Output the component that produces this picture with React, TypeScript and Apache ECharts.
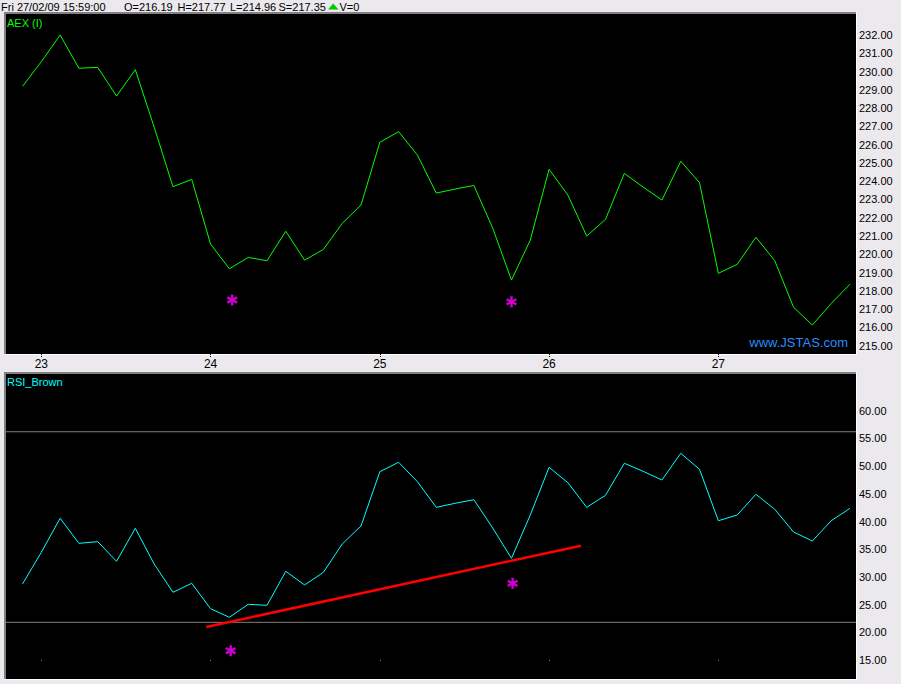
import React, { useEffect, useRef } from "react";
import * as echarts from "echarts";

// ---- data ----
const DAYS = ["23", "24", "25", "26", "27"];
const HOURS = ["09:00", "10:00", "11:00", "12:00", "13:00", "14:00", "15:00", "16:00", "17:00"];
const PREV_BAR = "20 17:00";
const CATEGORIES = [PREV_BAR, ...DAYS.flatMap((d) => HOURS.map((h) => `${d} ${h}`))].slice(0, 45);

const AEX = [
  229.19, 230.54, 232.0, 230.18, 230.23, 228.66, 230.1, 226.96, 223.7, 224.1,
  220.56, 219.21, 219.83, 219.65, 221.26, 219.68, 220.27, 221.69, 222.7, 226.13,
  226.71, 225.43, 223.35, 223.57, 223.77, 221.44, 218.59, 220.78, 224.65, 223.24,
  221.0, 221.91, 224.43, 223.68, 222.97, 225.09, 223.92, 218.96, 219.45, 220.93,
  219.65, 217.1, 216.13, 217.31, 218.37,
];

const RSI = [
  28.72, 34.44, 40.58, 36.06, 36.36, 32.82, 38.77, 32.33, 27.22, 28.84,
  24.26, 22.71, 25.05, 24.87, 31.01, 28.54, 30.83, 35.94, 39.19, 48.99,
  50.69, 47.18, 42.56, 43.28, 43.94, 38.83, 33.36, 41.17, 49.78, 47.0,
  42.56, 44.73, 50.51, 49.06, 47.49, 52.31, 49.42, 40.14, 41.17, 44.91,
  42.2, 38.1, 36.48, 40.14, 42.38,
];

const RSI_LEVELS = [56.2, 21.8];
const TREND_LINE = [
  [9.77, 20.96],
  [29.69, 35.63],
];
const PRICE_STARS = [
  [11.15, 217.5],
  [26.0, 217.4],
];
const RSI_STARS = [
  [11.07, 16.68],
  [26.06, 28.84],
];

const HEADER_DATE = "Fri 27/02/09 15:59:00";
const HEADER_FIELDS = [
  ["O", 216.19],
  ["H", 217.77],
  ["L", 214.96],
  ["S", 217.35],
];
const HEADER_VOLUME = "V=0";
const PRICE_TITLE = "AEX (I)";
const RSI_TITLE = "RSI_Brown";
const WATERMARK = "www.JSTAS.com";

// ---- styles ----
const FONT = "'Liberation Sans', Arial, sans-serif";
const BG = "#ebe9ed";
const HEADER_X = [124, 177.5, 230, 278.5];
const STAR =
  "path://M3.9 0L6.1 0L6.1 10L3.9 10Z M0.05 3.55L1.15 1.65L9.95 6.45L8.85 8.35Z M0.05 6.45L8.85 1.65L9.95 3.55L1.15 8.35Z";

const isDayStart = (i: number) => {
  const c = CATEGORIES[i];
  return !!c && c.endsWith(HOURS[0]);
};

export default function App() {
  const ref = useRef<HTMLDivElement>(null);
  useEffect(() => {
    document.body.style.margin = "0";
    const chart = echarts.init(ref.current!, null, { renderer: "svg" });
    const gridLeft = 22.5;
    const gridWidth = 827.5;

    const yLabel = (v: number) => v.toFixed(2);

    const panel = (y: number, h: number) => [
      { type: "rect", z: -10, shape: { x: 4, y, width: 853, height: h + 1 }, style: { fill: "#ffffff" } },
      { type: "rect", z: -9, shape: { x: 4, y, width: 852, height: h }, style: { fill: "#808080" } },
      { type: "rect", z: -8, shape: { x: 6, y: y + 2, width: 850, height: h - 2 }, style: { fill: "#000000" } },
    ];

    const txt = (x: number, y: number, text: string, fill: string, size = 11, align = "left") => ({
      type: "text",
      z: 100,
      x,
      y,
      style: { text, font: `${size}px ${FONT}`, fill, align, verticalAlign: "middle" },
    });

    const graphic: any[] = [
      ...panel(12, 342),
      ...panel(372, 307),
      txt(1, 7, HEADER_DATE, "#000"),
      ...HEADER_FIELDS.map((f, i) =>
        txt(HEADER_X[i], 7, `${f[0]}=${(f[1] as number).toFixed(2)}`, "#000")
      ),
      {
        type: "polygon",
        z: 100,
        shape: { points: [[328, 9.5], [338.5, 9.5], [333.2, 3.5]] },
        style: { fill: "#00c800" },
      },
      txt(339.5, 7, HEADER_VOLUME, "#000"),
      txt(7, 23, PRICE_TITLE, "#00ff00"),
      txt(7, 382, RSI_TITLE, "#00ffff"),
      txt(848, 342, WATERMARK, "#2a8cff", 13, "right"),
    ];

    const option: any = {
      animation: false,
      backgroundColor: BG,
      graphic,
      grid: [
        { left: gridLeft, width: gridWidth, top: 35, height: 310.7 },
        { left: gridLeft, width: gridWidth, top: 410.7, height: 249.3 },
        { left: 6, width: 850, top: 410.7, height: 249.3 },
      ],
      xAxis: [
        {
          gridIndex: 0,
          type: "category",
          data: CATEGORIES,
          boundaryGap: false,
          position: "bottom",
          offset: 8.3,
          axisLine: { show: false },
          axisTick: {
            show: true,
            interval: (i: number) => isDayStart(i),
            length: 4,
            lineStyle: { color: "#000", type: "dotted" },
          },
          axisLabel: {
            interval: (i: number) => isDayStart(i),
            formatter: (v: string) => v.split(" ")[0],
            color: "#000",
            fontSize: 12,
            fontFamily: FONT,
            margin: 4,
          },
          splitLine: { show: false },
        },
        {
          gridIndex: 1,
          type: "category",
          data: CATEGORIES,
          boundaryGap: false,
          position: "bottom",
          axisLine: { show: false },
          axisTick: {
            show: true,
            interval: (i: number) => isDayStart(i),
            length: 1,
            lineStyle: { color: "#808080" },
          },
          axisLabel: { show: false },
          splitLine: { show: false },
        },
        { gridIndex: 0, type: "value", min: 0, max: 44, show: false, position: "top" },
        { gridIndex: 1, type: "value", min: 0, max: 44, show: false, position: "top" },
        { gridIndex: 2, type: "value", min: 0, max: 1, show: false },
      ],
      yAxis: [
        {
          gridIndex: 0,
          type: "value",
          position: "right",
          min: 215,
          max: 232,
          interval: 1,
          axisLine: { show: false },
          axisTick: { show: false },
          splitLine: { show: false },
          axisLabel: { formatter: yLabel, color: "#000", fontSize: 11, fontFamily: FONT, margin: 9 },
        },
        {
          gridIndex: 1,
          type: "value",
          position: "right",
          min: 15,
          max: 60,
          interval: 5,
          axisLine: { show: false },
          axisTick: { show: false },
          splitLine: { show: false },
          axisLabel: { formatter: yLabel, color: "#000", fontSize: 11, fontFamily: FONT, margin: 9 },
        },
        { gridIndex: 2, type: "value", min: 15, max: 60, show: false },
      ],
      series: [
        {
          name: PRICE_TITLE,
          type: "line",
          xAxisIndex: 0,
          yAxisIndex: 0,
          data: AEX,
          symbol: "none",
          lineStyle: { color: "#00ff00", width: 1 },
          z: 3,
        },
        ...RSI_LEVELS.map((lvl) => ({
          type: "line",
          xAxisIndex: 4,
          yAxisIndex: 2,
          data: [
            [0, lvl],
            [1, lvl],
          ],
          symbol: "none",
          lineStyle: { color: "#808080", width: 1 },
          z: 2,
        })),
        {
          name: RSI_TITLE,
          type: "line",
          xAxisIndex: 1,
          yAxisIndex: 1,
          data: RSI,
          symbol: "none",
          lineStyle: { color: "#00ffff", width: 1 },
          z: 3,
        },
        {
          type: "line",
          xAxisIndex: 3,
          yAxisIndex: 1,
          data: TREND_LINE,
          symbol: "none",
          lineStyle: { color: "#ff0000", width: 2.5 },
          z: 4,
        },
        {
          type: "scatter",
          xAxisIndex: 2,
          yAxisIndex: 0,
          data: PRICE_STARS,
          symbol: STAR,
          symbolSize: 11,
          itemStyle: { color: "#ff00ff" },
          z: 5,
        },
        {
          type: "scatter",
          xAxisIndex: 3,
          yAxisIndex: 1,
          data: RSI_STARS,
          symbol: STAR,
          symbolSize: 11,
          itemStyle: { color: "#ff00ff" },
          z: 5,
        },
      ],
    };
    chart.setOption(option);
    return () => chart.dispose();
  }, []);

  return (
    <div
      ref={ref}
      style={{ position: "fixed", left: 0, top: 0, width: 901, height: 684 }}
    />
  );
}
